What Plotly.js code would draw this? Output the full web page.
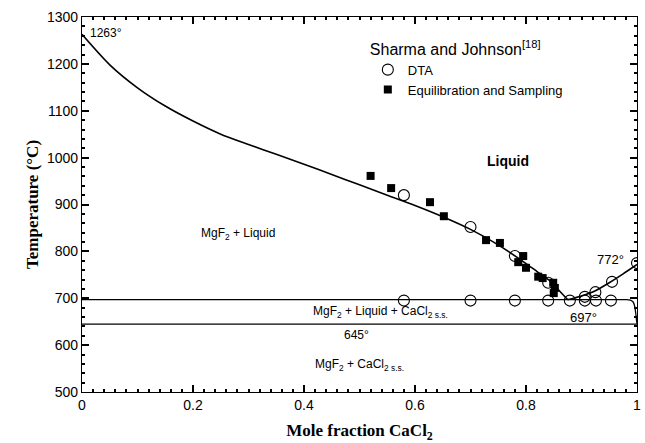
<!DOCTYPE html>
<html>
<head>
<meta charset="utf-8">
<script src="https://cdn.plot.ly/plotly-3.0.1.min.js"></script>
<style>body { margin: 0; }</style>
</head>
<body>
<div id="chart"></div>
<script>
// MgF2–CaCl2 phase diagram

// Liquidus, MgF2 side (from pure MgF2 at 1263° down to the eutectic)
const liqLeftX = [0, 0.05, 0.1, 0.15, 0.2, 0.25, 0.3, 0.35, 0.4, 0.45, 0.5, 0.55, 0.6, 0.65, 0.7, 0.75, 0.8, 0.82, 0.84, 0.86, 0.875];
const liqLeftT = [1263, 1198, 1149, 1110, 1078, 1050, 1028, 1007, 986, 964, 942, 920, 898, 874, 847, 814, 774, 757, 740, 716, 697];

// Liquidus, CaCl2 side (eutectic up to pure CaCl2 at 772°)
const liqRightX = [0.875, 0.9, 0.925, 0.95, 0.975, 1.0];
const liqRightT = [697, 705, 716, 733, 752, 772];

// Eutectic isotherm at 697°, bending into the CaCl2 solvus
const eutX = [0, 0.98, 0.988, 0.993, 0.996, 0.998, 1.0];
const eutT = [697, 697, 696, 692, 682, 665, 645];

// Solid-state isotherm at 645°
const isoX = [0, 1];
const isoT = [645, 645];

// Sharma and Johnson: DTA
const dtaX = [0.58, 0.70, 0.78, 0.84, 0.906, 0.925, 0.955, 1.0, 0.58, 0.70, 0.78, 0.84, 0.879, 0.906, 0.926, 0.953];
const dtaT = [920, 852, 790, 733, 703, 713, 735, 775, 695, 695, 695, 695, 695, 695, 695, 695];

// Sharma and Johnson: equilibration and sampling
const eqX = [0.52, 0.557, 0.627, 0.652, 0.728, 0.753, 0.786, 0.795, 0.80, 0.822, 0.83, 0.849, 0.852, 0.85];
const eqT = [961, 935, 905, 875, 824, 818, 777, 790, 765, 746, 743, 733, 722, 711];

const SANS = 'Arial, sans-serif';
const SERIF = 'Times New Roman, serif';

const traces = [
  { x: liqLeftX, y: liqLeftT, mode: 'lines', line: { color: '#000', width: 1.6, shape: 'spline', smoothing: 0.8 }, showlegend: false },
  { x: liqRightX, y: liqRightT, mode: 'lines', line: { color: '#000', width: 1.6, shape: 'spline', smoothing: 0.6 }, showlegend: false },
  { x: eutX, y: eutT, mode: 'lines', line: { color: '#000', width: 1.3, shape: 'spline', smoothing: 0.6 }, showlegend: false },
  { x: isoX, y: isoT, mode: 'lines', line: { color: '#000', width: 1.3 }, showlegend: false },
  { x: dtaX, y: dtaT, mode: 'markers', name: 'DTA',
    marker: { symbol: 'circle-open', size: 11, color: '#000', line: { width: 1.1, color: '#000' } } },
  { x: eqX, y: eqT, mode: 'markers', name: 'Equilibration and Sampling',
    marker: { symbol: 'square', size: 8, color: '#000' } }
];

const regionFont = { family: SANS, size: 12, color: '#000' };

const layout = {
  width: 645, height: 443,
  margin: { l: 82, r: 8, t: 17, b: 51 },
  paper_bgcolor: '#fff', plot_bgcolor: '#fff',
  xaxis: {
    range: [0, 1], dtick: 0.2, automargin: false, layer: 'above traces',
    showline: true, linecolor: '#000', linewidth: 1.3, mirror: 'allticks',
    ticks: 'inside', ticklen: 7, tickwidth: 1.5, tickcolor: '#000',
    minor: { ticks: 'inside', dtick: 0.02, ticklen: 3, tickcolor: '#000' },
    showgrid: false, zeroline: false,
    tickfont: { family: SANS, size: 14, color: '#000' },
    title: { text: '<b>Mole fraction CaCl<sub>2</sub></b>', font: { family: SERIF, size: 17, color: '#000' } }
  },
  yaxis: {
    range: [500, 1300], dtick: 100, automargin: false, layer: 'above traces',
    showline: true, linecolor: '#000', linewidth: 1.3, mirror: 'allticks',
    ticks: 'inside', ticklen: 7, tickwidth: 1.5, tickcolor: '#000',
    minor: { ticks: 'inside', dtick: 20, ticklen: 3, tickcolor: '#000' },
    showgrid: false, zeroline: false,
    tickfont: { family: SANS, size: 14, color: '#000' },
    title: { text: '<b>Temperature (°C)</b>', font: { family: SERIF, size: 17, color: '#000' } }
  },
  showlegend: true,
  legend: {
    x: 0.515, y: 0.955, xanchor: 'left', yanchor: 'top',
    bgcolor: 'rgba(0,0,0,0)', borderwidth: 0,
    font: { family: SANS, size: 13, color: '#000' },
    title: { text: 'Sharma and Johnson<sup>[18]</sup>', font: { family: SANS, size: 16, color: '#000' } },
    itemwidth: 30, tracegroupgap: 0
  },
  annotations: [
    { x: 0.011, y: 1266, text: '1263°', showarrow: false, xanchor: 'left', font: { family: SANS, size: 12, color: '#000' } },
    { x: 0.768, y: 993, text: '<b>Liquid</b>', showarrow: false, font: { family: SANS, size: 14, color: '#000' } },
    { x: 0.281, y: 837, text: 'MgF<sub>2</sub> + Liquid', showarrow: false, font: regionFont },
    { x: 0.953, y: 782, text: '772°', showarrow: false, font: { family: SANS, size: 13, color: '#000' } },
    { x: 0.903, y: 660, text: '697°', showarrow: false, font: { family: SANS, size: 13, color: '#000' } },
    { x: 0.537, y: 671, text: 'MgF<sub>2</sub> + Liquid + CaCl<sub>2 s.s.</sub>', showarrow: false, font: regionFont },
    { x: 0.495, y: 622, text: '645°', showarrow: false, font: regionFont },
    { x: 0.50, y: 557, text: 'MgF<sub>2</sub> + CaCl<sub>2 s.s.</sub>', showarrow: false, font: regionFont }
  ]
};

Plotly.newPlot('chart', traces, layout, { displayModeBar: false });
</script>
</body>
</html>
